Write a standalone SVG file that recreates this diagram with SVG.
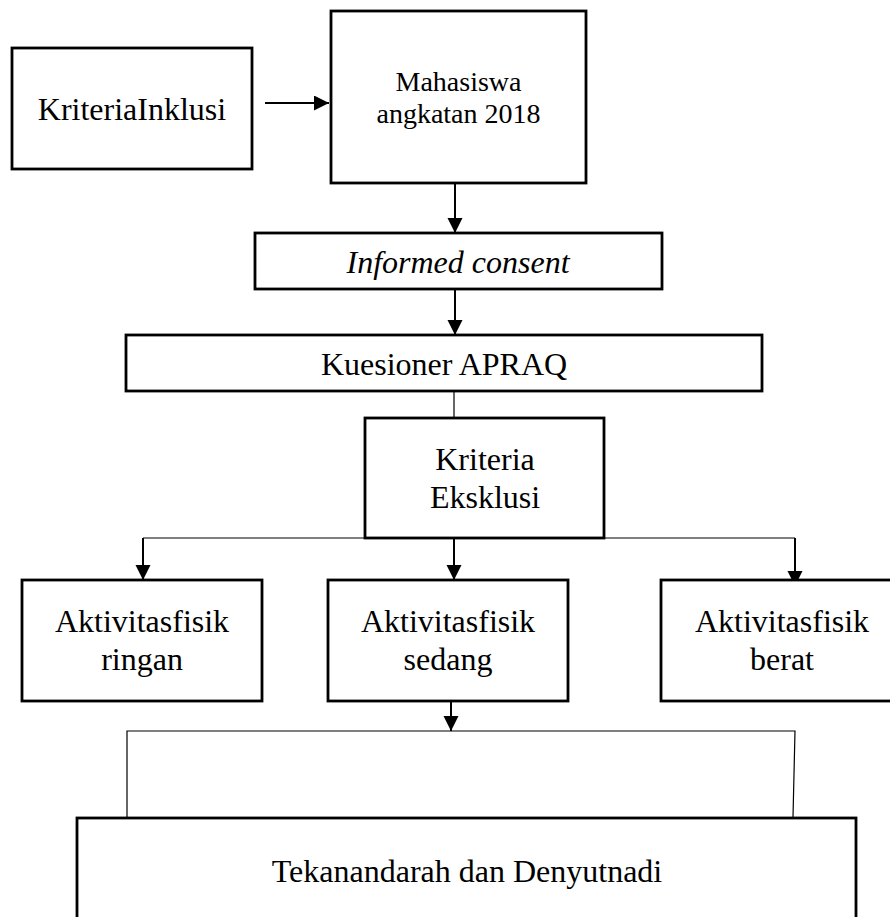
<svg xmlns="http://www.w3.org/2000/svg" width="890" height="917" viewBox="0 0 890 917">
<style>
.box{fill:#fff;stroke:#000;stroke-width:2.8}
.t{font-family:"Liberation Serif","Times New Roman",serif;font-size:32px;fill:#000;text-anchor:middle}
.sm{font-size:28px}
.it{font-style:italic}
.c{fill:none;stroke:#000;stroke-width:2}
.thin{fill:none;stroke:#000;stroke-width:1.2}
</style>
<defs>
<marker id="ah" markerUnits="userSpaceOnUse" markerWidth="16" markerHeight="16" refX="15" refY="7.5" orient="auto">
<path d="M0,0 L15,7.5 L0,15 z" fill="#000"/>
</marker>
</defs>
<rect width="890" height="917" fill="#fff"/>
<g id="connectors">
<path class="c" d="M265,103 H329" marker-end="url(#ah)"/>
<path class="c" d="M455,184 V233" marker-end="url(#ah)"/>
<path class="c" d="M455,290 V335" marker-end="url(#ah)"/>
<path class="thin" d="M454,382 V418"/>
<path class="thin" d="M365,538 H143"/>
<path class="c" d="M143,538 V580" marker-end="url(#ah)"/>
<path class="c" d="M454,539 V580" marker-end="url(#ah)"/>
<path class="thin" d="M604,538 H795"/>
<path class="c" d="M795,538 V586" marker-end="url(#ah)"/>
<path class="c" d="M451,702 V731" marker-end="url(#ah)"/>
<path class="thin" d="M127,817 V731 H795 L793,817"/>
</g>
<g id="kriteria-inklusi">
<rect class="box" x="12" y="48" width="240" height="121"/>
<text class="t" x="132" y="120">KriteriaInklusi</text>
</g>
<g id="mahasiswa">
<rect class="box" x="331" y="11" width="255" height="172"/>
<text class="t sm" x="458.5" y="91">Mahasiswa</text>
<text class="t sm" x="458.5" y="123">angkatan 2018</text>
</g>
<g id="informed-consent">
<rect class="box" x="255" y="233" width="407" height="56"/>
<text class="t it" x="458" y="273">Informed consent</text>
</g>
<g id="kuesioner">
<rect class="box" x="126" y="335" width="636" height="56"/>
<text class="t" x="444" y="375">Kuesioner APRAQ</text>
</g>
<g id="kriteria-eksklusi">
<rect class="box" x="365" y="418" width="239" height="120"/>
<text class="t" x="485" y="470">Kriteria</text>
<text class="t" x="485" y="508">Eksklusi</text>
</g>
<g id="ringan">
<rect class="box" x="22" y="580" width="240" height="121"/>
<text class="t" x="142" y="632">Aktivitasfisik</text>
<text class="t" x="142" y="670">ringan</text>
</g>
<g id="sedang">
<rect class="box" x="328" y="580" width="240" height="121"/>
<text class="t" x="448" y="632">Aktivitasfisik</text>
<text class="t" x="448" y="670">sedang</text>
</g>
<g id="berat">
<rect class="box" x="661" y="580" width="242" height="121"/>
<text class="t" x="782" y="632">Aktivitasfisik</text>
<text class="t" x="782" y="670">berat</text>
</g>
<g id="tekanan-darah">
<rect class="box" x="77" y="818" width="779" height="130"/>
<text class="t" x="467" y="882">Tekanandarah dan Denyutnadi</text>
</g>
</svg>
